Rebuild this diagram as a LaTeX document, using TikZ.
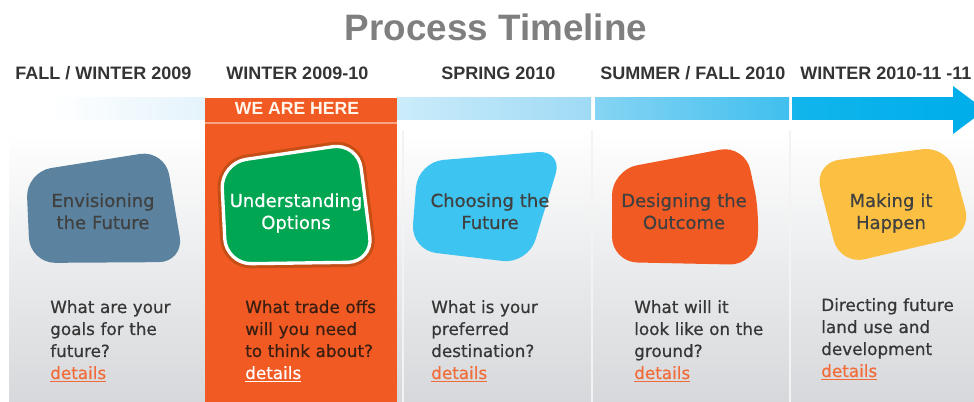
\documentclass[tikz,border=0pt]{standalone}
\usepackage{fontspec}
\setmainfont{DejaVu Sans}[FakeBold=0.6]
\newfontfamily\headfont{Liberation Sans}
\usepackage{tikz}
\usetikzlibrary{positioning}

\definecolor{titlegray}{HTML}{7F7F7F}
\definecolor{headgray}{HTML}{343434}
\definecolor{bodygray}{HTML}{363636}
\definecolor{herebrown}{HTML}{3A1E12}
\definecolor{hereorange}{HTML}{F15A22}
\definecolor{linkorange}{HTML}{F26C3A}
\definecolor{steelblob}{HTML}{5B83A0}
\definecolor{greenblob}{HTML}{00A651}
\definecolor{cyanblob}{HTML}{3EC4F1}
\definecolor{yellowblob}{HTML}{FBBF42}
\definecolor{panelgray}{HTML}{D6D8DB}
\definecolor{barA}{HTML}{E4F3FB}
\definecolor{barB}{HTML}{CBECFA}
\definecolor{barC}{HTML}{9FDAF5}
\definecolor{barD}{HTML}{86D4F3}
\definecolor{barE}{HTML}{40BFEE}
\definecolor{barF}{HTML}{12B5EC}
\definecolor{barG}{HTML}{00AEEA}

\newcommand{\detailslink}[1][linkorange]{\textcolor{#1}{\underline{details}}}

\begin{document}
\begin{tikzpicture}[x=0.75pt,y=-0.75pt,
  period/.style={anchor=base west,inner sep=0pt,text=headgray,
    font=\headfont\bfseries\fontsize{13.5}{16}\selectfont},
  blob/.style={rounded corners=19pt},
  blobtext/.style={anchor=base,align=center,text width=130pt,inner sep=0pt,
    text=black!75,font=\fontsize{13.5}{16.5}\selectfont},
  question/.style={anchor=base west,align=left,text width=130pt,inner sep=0pt,
    text=bodygray,font=\fontsize{12.6}{16.5}\selectfont},
]
\useasboundingbox (0,0) rectangle (974,402);
\clip (0,0) rectangle (974,402);

% background panel and column rules
\shade[top color=white,bottom color=panelgray] (9,130) rectangle (974,402);
\foreach \x in {403,592,790}
  \draw[white!70!panelgray,line width=1.5] (\x,130) -- (\x,402);

% timeline bar
\shade[left color=white,right color=barA] (50,98) rectangle (205,120);
\shade[left color=barB,right color=barC] (397,98) rectangle (591,120);
\shade[left color=barD,right color=barE] (595,98) rectangle (789,120);
\shade[left color=barF,right color=barG] (792,98) rectangle (954,120);
\fill[barG] (953,86) -- (985,110) -- (953,134) -- cycle;

% current stage
\fill[hereorange] (205,98) rectangle (397,402);
\draw[hereorange!55!white,line width=1.2] (205,123) -- (397,123);
\node[anchor=base,inner sep=0pt,text=white!92!orange,
  font=\headfont\bfseries\fontsize{13.2}{14}\selectfont] (here) at (297,115) {WE ARE HERE};

% title and periods
\node[anchor=base,inner sep=0pt,text=titlegray,
  font=\headfont\bfseries\fontsize{27.6}{30}\selectfont] (title) at (496,41) {Process Timeline};
\node[period] (p1) at (15,80) {FALL / WINTER 2009};
\node[period] (p2) at (226,80) {WINTER 2009-10};
\node[period] (p3) at (441,80) {SPRING 2010};
\node[period] (p4) at (600,80) {SUMMER / FALL 2010};
\node[period] (p5) at (800,80) {WINTER 2010-11 -11};

% blobs
\fill[blob,steelblob] (26,172) -- (165,150) -- (184,262) -- (30,263) -- cycle;
\draw[blob,line width=7,orange!45!black,opacity=0.35] (221,163) -- (358,143) -- (373,262) -- (226,264) -- cycle;
\filldraw[blob,fill=greenblob,draw=white,line width=2.5] (221,163) -- (358,143) -- (373,262) -- (226,264) -- cycle;
\fill[blob,cyanblob] (418,162) -- (563,150) -- (528,264) -- (411,250) -- cycle;
\fill[blob,hereorange] (612,170) -- (745,145) -- (760,215) -- (755,265) -- (612,262) -- cycle;
\fill[blob,yellowblob] (814,163) -- (948,146) -- (972,234) -- (840,265) -- cycle;

\node[blobtext] (envision) at (103,207) {Envisioning\\the Future};
\node[blobtext,text=white] (understand) at (296,207) {Understanding\\Options};
\node[blobtext] (choose) at (490,207) {Choosing the\\Future};
\node[blobtext] (design) at (684,207) {Designing the\\Outcome};
\node[blobtext] (make) at (891,207) {Making it\\Happen};

% questions
\node[question] (q1) at (50,313) {What are your\\goals for the\\future?\\\detailslink};
\node[question,text=herebrown] (q2) at (245,313) {What trade offs\\will you need\\to think about?\\\detailslink[white]};
\node[question] (q3) at (431,313) {What is your\\preferred\\destination?\\\detailslink};
\node[question] (q4) at (634,313) {What will it\\look like on the\\ground?\\\detailslink};
\node[question] (q5) at (821,311) {Directing future\\land use and\\development\\\detailslink};
\end{tikzpicture}
\end{document}
